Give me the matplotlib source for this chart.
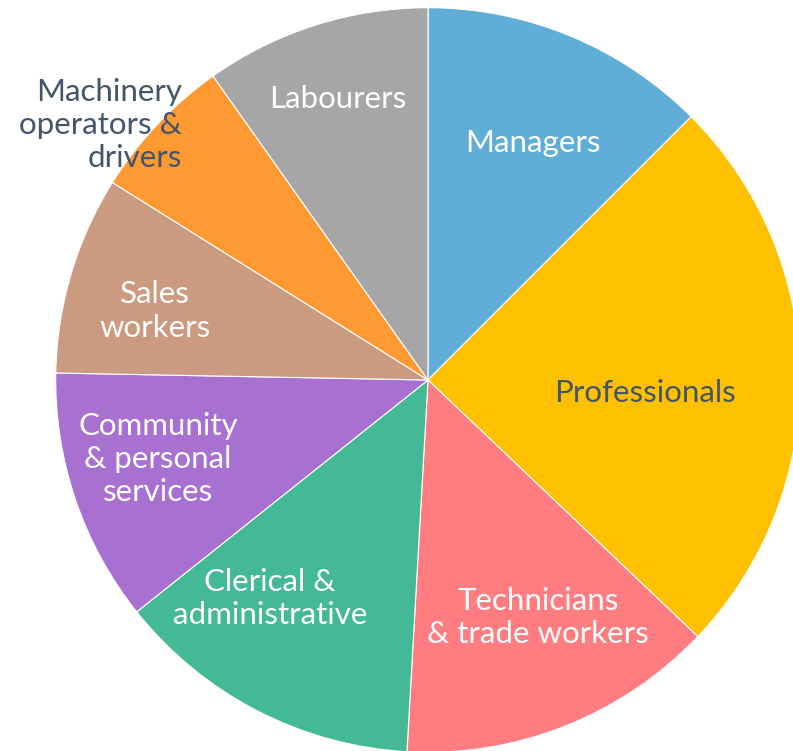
import matplotlib
matplotlib.use("Agg")
import matplotlib.pyplot as plt

categories = ["Managers", "Professionals", "Technicians\n& trade workers",
              "Clerical &\nadministrative", "Community\n& personal\nservices",
              "Sales\nworkers", "Machinery\noperators &\ndrivers", "Labourers"]
values = [12.5, 24.6, 13.8, 13.4, 11.0, 8.6, 6.3, 9.8]
colors = ["#60AED7", "#FFC000", "#FF7C80", "#43B995", "#A870D0",
          "#CB9A80", "#FF9A33", "#A6A6A6"]
text_colors = ["white", "#44546A", "white", "white", "white", "white", "#44546A", "white"]
label_pos = [(0.282, 0.637), (0.583, -0.035), (0.295, -0.637), (-0.424, -0.586),
             (-0.725, -0.212), (-0.733, 0.185), (-0.661, 0.685), (-0.242, 0.755)]
label_ha = ["center", "center", "center", "center", "center", "center", "right", "center"]

W, H = 793, 751
fig = plt.figure(figsize=(W / 100, H / 100), dpi=100)
cx, cy, r = 428, 380, 372.3
ax = fig.add_axes([(cx - r) / W, (H - cy - r) / H, 2 * r / W, 2 * r / H])
ax.pie(values, colors=colors, startangle=90, counterclock=False, radius=1,
       wedgeprops=dict(edgecolor="white", linewidth=0.8))
ax.set_xlim(-1, 1)
ax.set_ylim(-1, 1)
ax.set_aspect("auto")
ax.axis("off")

for lab, (x, y), c, ha in zip(categories, label_pos, text_colors, label_ha):
    ax.text(x, y, lab, ha=ha, va="center", multialignment=ha, color=c,
            fontsize=22.5, family=["Lato", "DejaVu Sans"], linespacing=1.23)

fig.savefig("out.png", dpi=100)
